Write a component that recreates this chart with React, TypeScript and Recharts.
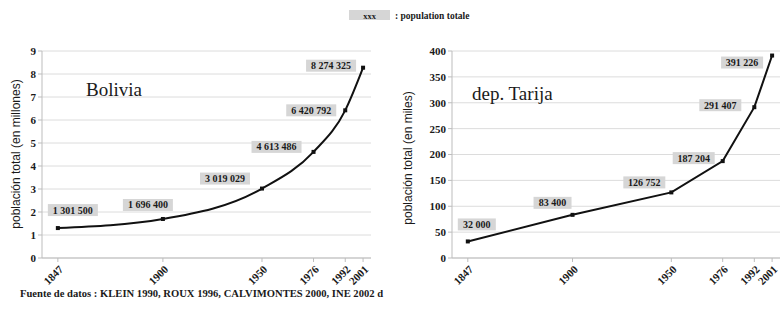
import { CartesianGrid, LabelList, Line, LineChart, XAxis, YAxis } from "recharts";

const YEARS = [1847, 1900, 1950, 1976, 1992, 2001];
const BOLIVIA_POP = [1301500, 1696400, 3019029, 4613486, 6420792, 8274325];
const TARIJA_POP = [32000, 83400, 126752, 187204, 291407, 391226];
const BOLIVIA_TICKS = [0, 1, 2, 3, 4, 5, 6, 7, 8, 9];
const TARIJA_TICKS = [0, 50, 100, 150, 200, 250, 300, 350, 400];

// where each grey value box sits relative to its point (dx, dy)
const BOLIVIA_LABEL_OFFSETS = [
  [15, -18],
  [-15, -14],
  [-37, -10],
  [-37, -5],
  [-34, 0],
  [-32, -2],
];
const TARIJA_LABEL_OFFSETS = [
  [9, -17],
  [-20, -12],
  [-27, -10],
  [-29, -3],
  [-34, -2],
  [-30, 7],
];

const SERIF = "'Liberation Serif', 'DejaVu Serif', serif";
const SANS = "'Liberation Sans', Arial, sans-serif";
const BOX_FILL = "#d6d6d6";
const TEXT = "#1a1a1a";

function formatPop(n: number): string {
  return n.toString().replace(/\B(?=(\d{3})+(?!\d))/g, " ");
}

const boliviaData = YEARS.map((year, i) => ({
  year,
  value: BOLIVIA_POP[i] / 1e6,
  label: formatPop(BOLIVIA_POP[i]),
}));
const tarijaData = YEARS.map((year, i) => ({
  year,
  value: TARIJA_POP[i] / 1e3,
  label: formatPop(TARIJA_POP[i]),
}));

function YearTick(props: any) {
  const { x, y, payload } = props;
  const px = x + 6;
  const py = y + 6;
  return (
    <text
      x={px}
      y={py}
      transform={`rotate(-45, ${px}, ${py})`}
      textAnchor="end"
      fontFamily={SERIF}
      fontWeight={700}
      fontSize={11}
      fill={TEXT}
    >
      {payload.value}
    </text>
  );
}

function SquareDot(props: any) {
  const { cx, cy, index } = props;
  return <rect key={`dot-${index}`} x={cx - 2} y={cy - 2} width={4} height={4} fill="#111" />;
}

function makeLabel(offsets: number[][]) {
  return (props: any) => {
    const { x, y, value, index } = props;
    const [dx, dy] = offsets[index] ?? [0, -12];
    const text = String(value);
    const w = text.length * 4 + 14;
    const h = 12;
    const cx = x + dx;
    const cy = y + dy;
    return (
      <g key={`lbl-${index}`}>
        <rect x={cx - w / 2} y={cy - h / 2} width={w} height={h} fill={BOX_FILL} />
        <text
          x={cx}
          y={cy + 3.5}
          textAnchor="middle"
          fontFamily={SERIF}
          fontWeight={700}
          fontSize={10}
          fill={TEXT}
        >
          {text}
        </text>
      </g>
    );
  };
}

interface PopulationChartProps {
  data: { year: number; value: number; label: string }[];
  ticks: number[];
  offsets: number[][];
  width: number;
  yAxisWidth: number;
  rightMargin: number;
  curve: "monotone" | "linear";
}

function PopulationChart({ data, ticks, offsets, width, yAxisWidth, rightMargin, curve }: PopulationChartProps) {
  return (
    <LineChart
      width={width}
      height={309}
      data={data}
      margin={{ top: 51, right: rightMargin, bottom: 0, left: 0 }}
    >
      <CartesianGrid vertical={false} stroke="#dcdcdc" />
      <XAxis
        dataKey="year"
        type="number"
        domain={[1839, 2005]}
        ticks={YEARS}
        interval={0}
        height={51}
        stroke="#bdbdbd"
        tickSize={4}
        tick={<YearTick />}
      />
      <YAxis
        domain={[0, ticks[ticks.length - 1]]}
        ticks={ticks}
        interval={0}
        width={yAxisWidth}
        stroke="#bdbdbd"
        tickSize={4}
        tick={{ fontFamily: SERIF, fontWeight: 700, fontSize: 11, fill: TEXT }}
      />
      <Line
        dataKey="value"
        type={curve}
        stroke="#111"
        strokeWidth={2}
        dot={<SquareDot />}
        isAnimationActive={false}
      >
        <LabelList dataKey="label" content={makeLabel(offsets)} />
      </Line>
    </LineChart>
  );
}

export default function App() {
  return (
    <div style={{ position: "absolute", left: 0, top: 0, width: 781, height: 309, background: "#fff" }}>
      <div style={{ position: "absolute", left: 0, top: 0 }}>
        <PopulationChart
          data={boliviaData}
          ticks={BOLIVIA_TICKS}
          offsets={BOLIVIA_LABEL_OFFSETS}
          width={390}
          yAxisWidth={42}
          rightMargin={19}
          curve="monotone"
        />
      </div>
      <div style={{ position: "absolute", left: 390, top: 0 }}>
        <PopulationChart
          data={tarijaData}
          ticks={TARIJA_TICKS}
          offsets={TARIJA_LABEL_OFFSETS}
          width={391}
          yAxisWidth={62}
          rightMargin={1}
          curve="linear"
        />
      </div>
      <svg
        width={781}
        height={309}
        style={{ position: "absolute", left: 0, top: 0, pointerEvents: "none" }}
      >
        <rect x={349} y={10} width={41} height={10} fill={BOX_FILL} />
        <text x={369.5} y={18.5} textAnchor="middle" fontFamily={SERIF} fontWeight={700} fontSize={8.5} fill={TEXT}>
          xxx
        </text>
        <text x={395} y={18.5} fontFamily={SERIF} fontWeight={700} fontSize={9.5} fill={TEXT}>
          : population totale
        </text>

        <text x={86} y={96} fontFamily={SERIF} fontSize={19} fill={TEXT}>
          Bolivia
        </text>
        <text x={472} y={100} fontFamily={SERIF} fontSize={19} fill={TEXT}>
          dep. Tarija
        </text>

        <text
          x={20}
          y={154}
          transform="rotate(-90, 20, 154)"
          textAnchor="middle"
          fontFamily={SANS}
          fontSize={12}
          fill={TEXT}
        >
          población total (en millones)
        </text>
        <text
          x={412}
          y={158}
          transform="rotate(-90, 412, 158)"
          textAnchor="middle"
          fontFamily={SANS}
          fontSize={12}
          fill={TEXT}
        >
          población total (en miles)
        </text>

        <text x={20} y={297} fontFamily={SERIF} fontWeight={700} fontSize={10.6} fill={TEXT}>
          Fuente de datos : KLEIN 1990, ROUX 1996, CALVIMONTES 2000, INE 2002 d
        </text>
      </svg>
    </div>
  );
}
